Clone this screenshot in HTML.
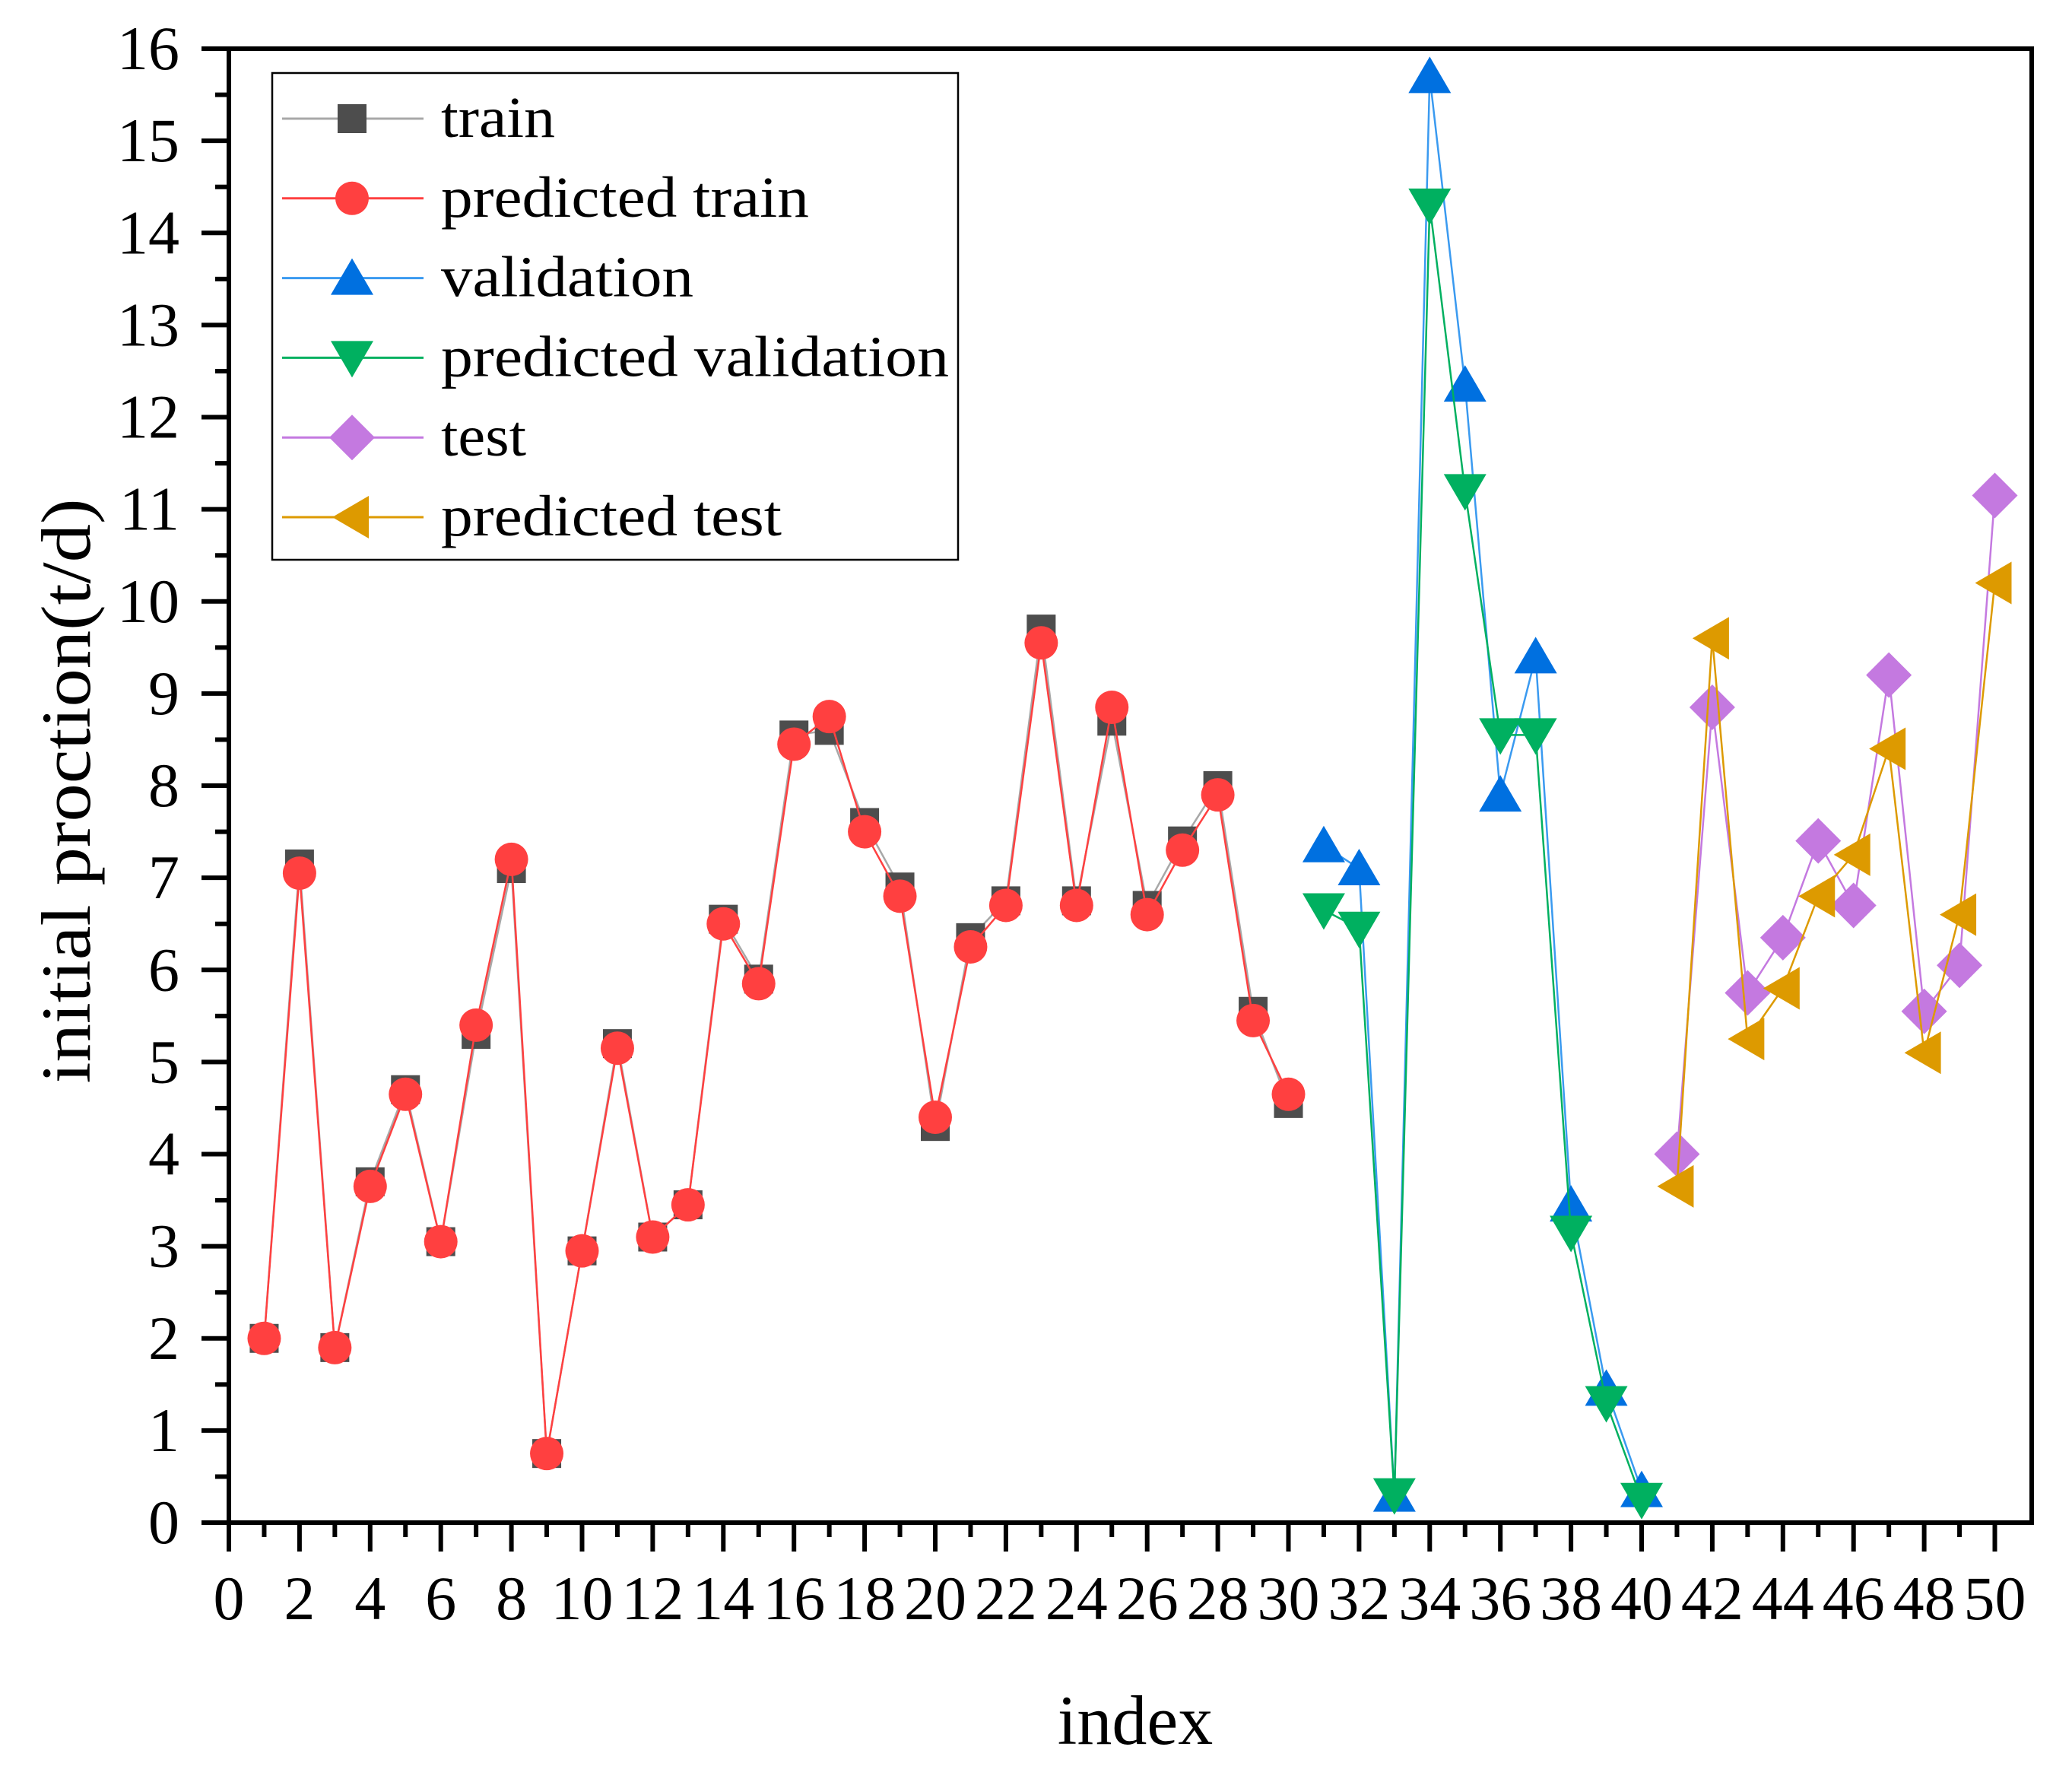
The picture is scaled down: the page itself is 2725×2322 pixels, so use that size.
<!DOCTYPE html>
<html><head><meta charset="utf-8"><style>
html,body{margin:0;padding:0;background:#fff}
svg{display:block;font-family:"Liberation Serif",serif}
</style></head><body>
<svg id="chart" width="2725" height="2322" viewBox="0 0 2725 2322" xmlns="http://www.w3.org/2000/svg">
<rect width="2725" height="2322" fill="#fff"/>
<g id="series"></g>
<g id="axes"></g>
<g id="legend"></g>
<text x="1493" y="2293" font-size="92" text-anchor="middle">index</text>
<text transform="translate(118,1040) rotate(-90)" font-size="92" text-anchor="middle" textLength="769" lengthAdjust="spacingAndGlyphs">initial proction(t/d)</text>
</svg>
<script>
const trainIdx = [1,2,3,4,5,6,7,8,9,10,11,12,13,14,15,16,17,18,19,20,21,22,23,24,25,26,27,28,29,30];
const train = [2.0,7.15,1.9,3.7,4.7,3.05,5.3,7.1,0.75,2.95,5.2,3.1,3.45,6.55,5.9,8.55,8.6,7.6,6.9,4.3,6.35,6.75,9.7,6.75,8.7,6.7,7.4,8.0,5.55,4.55];
const predTrain = [2.0,7.05,1.9,3.65,4.65,3.05,5.4,7.2,0.75,2.95,5.15,3.1,3.45,6.5,5.85,8.45,8.75,7.5,6.8,4.4,6.25,6.7,9.55,6.7,8.85,6.6,7.3,7.9,5.45,4.65];
const valIdx = [31,32,33,34,35,36,37,38,39,40];
const validation = [7.35,7.1,0.3,15.7,12.35,7.9,9.4,3.45,1.45,0.35];
const predValidation = [6.65,6.45,0.3,14.3,11.2,8.55,8.55,3.15,1.3,0.25];
const testIdx = [41,42,43,44,45,46,47,48,49,50];
const test = [4.0,8.85,5.75,6.35,7.4,6.7,9.2,5.55,6.05,11.15];
const predTest = [3.65,9.6,5.25,5.8,6.8,7.25,8.4,5.1,6.6,10.2];
const xTickLabels = ["0","2","4","6","8","10","12","14","16","18","20","22","24","26","28","30","32","34","36","38","40","42","44","46","48","50"];
const yTickLabels = ["0","1","2","3","4","5","6","7","8","9","10","11","12","13","14","15","16"];

const NS="http://www.w3.org/2000/svg";
const L=301, R=2672, T=64, B=2002;
const xs=v=>L+v*46.45;
const ys=v=>B-(v/16)*(B-T);
function mk(tag,attrs,parent){const e=document.createElementNS(NS,tag);for(const k in attrs)e.setAttribute(k,attrs[k]);parent.appendChild(e);return e;}
const S=document.getElementById('series'), A=document.getElementById('axes'), G=document.getElementById('legend');

function marker(shape,cx,cy,fill,parent){
  let e;
  if(shape==='square') e=mk('rect',{x:cx-19,y:cy-19,width:38,height:38,fill:fill},parent);
  else if(shape==='circle') e=mk('circle',{cx:cx,cy:cy,r:22,fill:fill},parent);
  else if(shape==='up') e=mk('polygon',{points:`${cx},${cy-26} ${cx+28},${cy+22} ${cx-28},${cy+22}`,fill:fill},parent);
  else if(shape==='down') e=mk('polygon',{points:`${cx},${cy+26} ${cx+28},${cy-22} ${cx-28},${cy-22}`,fill:fill},parent);
  else if(shape==='diamond') e=mk('polygon',{points:`${cx},${cy-30} ${cx+30},${cy} ${cx},${cy+30} ${cx-30},${cy}`,fill:fill},parent);
  else e=mk('polygon',{points:`${cx-26},${cy} ${cx+22},${cy-28} ${cx+22},${cy+28}`,fill:fill},parent);
  return e;
}
const seriesDefs=[
 {name:'train',idx:trainIdx,vals:train,line:'#a8a8a8',fill:'#4d4d4d',shape:'square'},
 {name:'predicted-train',idx:trainIdx,vals:predTrain,line:'#ff4040',fill:'#ff4040',shape:'circle'},
 {name:'validation',idx:valIdx,vals:validation,line:'#3a9af0',fill:'#0070e0',shape:'up'},
 {name:'predicted-validation',idx:valIdx,vals:predValidation,line:'#00b060',fill:'#00b060',shape:'down'},
 {name:'test',idx:testIdx,vals:test,line:'#c479e0',fill:'#c479e0',shape:'diamond'},
 {name:'predicted-test',idx:testIdx,vals:predTest,line:'#dd9a00',fill:'#dd9a00',shape:'left'}
];
seriesDefs.forEach(s=>{
  const g=mk('g',{},S);
  
  
  const pl=mk('polyline',{points:s.idx.map((x,i)=>xs(x)+','+ys(s.vals[i])).join(' '),fill:'none',stroke:s.line,'stroke-width':2.5},g);
  
  
  s.idx.forEach((x,i)=>{
    const m=marker(s.shape,xs(x),ys(s.vals[i]),s.fill,g);
    
    
  });
});

const fr=mk('rect',{x:L,y:T,width:R-L,height:B-T,fill:'none',stroke:'#000','stroke-width':6},A);


for(let v=0;v<=16;v+=0.5){
  const major=Number.isInteger(v);
  const t=mk('line',{x1:L,x2:L-(major?36:18),y1:ys(v),y2:ys(v),stroke:'#000','stroke-width':6},A);
  
  
}
yTickLabels.forEach((lab,i)=>{
  const t=mk('text',{x:236,y:ys(i)+27,'font-size':82,'text-anchor':'end'},A);
  t.textContent=lab;
  
  
});
for(let v=0;v<=50;v++){
  const major=v%2===0;
  const t=mk('line',{x1:xs(v),x2:xs(v),y1:B,y2:B+(major?38:19),stroke:'#000','stroke-width':6},A);
  
  
}
xTickLabels.forEach((lab,i)=>{
  const t=mk('text',{x:xs(i*2),y:2129,'font-size':82,'text-anchor':'middle'},A);
  t.textContent=lab;
  
  
});

const lb=mk('rect',{x:358,y:96,width:902,height:640,fill:'#fff',stroke:'#000','stroke-width':2.5},G);


const legendLabels=['train','predicted train','validation','predicted validation','test','predicted test'];
const legendWidths=[150,484,332,668,112,448];
seriesDefs.forEach((s,i)=>{
  const y=156+i*104.8;
  const g=mk('g',{},G);
  
  
  mk('line',{x1:371,x2:557,y1:y,y2:y,stroke:s.line,'stroke-width':3},g);
  marker(s.shape,463,y,s.fill,g);
  const t=mk('text',{x:580,y:y+24,'font-size':76,textLength:legendWidths[i],lengthAdjust:'spacingAndGlyphs'},g);
  t.textContent=legendLabels[i];
});
</script>
</body></html>
